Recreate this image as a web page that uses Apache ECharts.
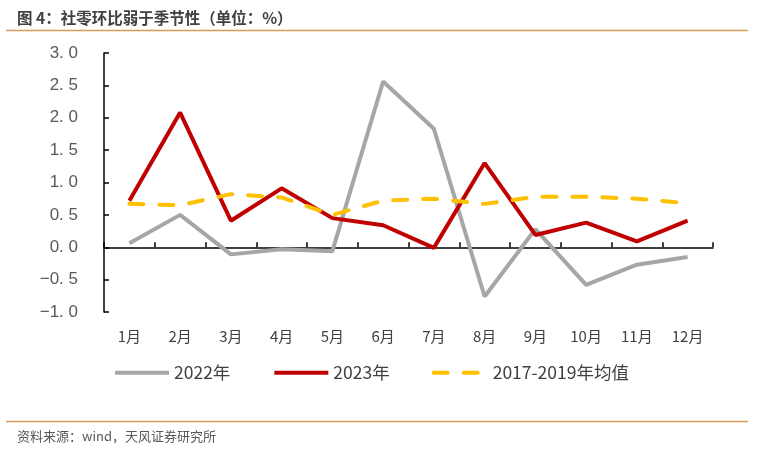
<!DOCTYPE html>
<html>
<head>
<meta charset="utf-8">
<script src="https://cdn.jsdelivr.net/npm/echarts@6/dist/echarts.min.js"></script>
<style>
html,body{margin:0;padding:0;background:#fff;}
#c{width:757px;height:457px;}
</style>
</head>
<body>
<div id="c"></div>
<script>
var months = ['1月','2月','3月','4月','5月','6月','7月','8月','9月','10月','11月','12月'];
var s2022 = [0.06, 0.50, -0.11, -0.03, -0.06, 2.56, 1.83, -0.76, 0.28, -0.58, -0.27, -0.15];
var s2023 = [0.72, 2.08, 0.41, 0.91, 0.45, 0.34, -0.01, 1.30, 0.19, 0.38, 0.09, 0.41];
var sAvg = [0.67, 0.65, 0.82, 0.77, 0.50, 0.72, 0.75, 0.67, 0.78, 0.78, 0.75, 0.68];
var names = ['2022年', '2023年', '2017-2019年均值'];

var font = '"Noto Sans CJK SC", "Noto Sans", sans-serif';
var chart = echarts.init(document.getElementById('c'), null, {renderer: 'canvas'});
chart.setOption({
  animation: false,
  backgroundColor: '#fff',
  title: {
    text: '图 4：社零环比弱于季节性（单位：%）',
    left: 12, top: 5,
    textStyle: {fontSize: 15.5, fontWeight: 'bold', color: '#404040', fontFamily: font}
  },
  graphic: [
    {type: 'line', shape: {x1: 6, y1: 30.5, x2: 748, y2: 30.5}, style: {stroke: '#D99A5B', lineWidth: 1.5}},
    {type: 'line', shape: {x1: 6, y1: 421.5, x2: 748, y2: 421.5}, style: {stroke: '#D99A5B', lineWidth: 1.5}},
    {type: 'text', left: 17, top: 430, style: {text: '资料来源：wind，天风证券研究所', fill: '#595959', font: '13px "Noto Sans CJK SC", sans-serif'}}
  ],
  legend: {
    left: 108, top: 359,
    itemWidth: 54, itemHeight: 10, itemGap: 42,
    textStyle: {fontSize: 17.5, color: '#404040', fontFamily: font},
    itemStyle: {opacity: 0},
    lineStyle: {width: 4},
    data: names
  },
  grid: {left: 104, right: 44, top: 53, bottom: 145},
  xAxis: [
    {
      type: 'category', data: months, position: 'bottom',
      axisLine: {show: false, onZero: false},
      axisTick: {show: false},
      axisLabel: {fontSize: 15, color: '#404040', margin: 17, fontFamily: font},
      splitLine: {show: false}
    },
    {
      type: 'category', data: months, position: 'bottom',
      axisLine: {show: true, onZero: true, lineStyle: {color: '#000', width: 1.5}},
      axisTick: {show: true, inside: true, length: 5, lineStyle: {color: '#000', width: 1.5}},
      axisLabel: {show: false},
      splitLine: {show: false}
    }
  ],
  yAxis: {
    type: 'value', min: -1, max: 3, interval: 0.5,
    axisLine: {show: true, lineStyle: {color: '#000', width: 1.5}},
    axisTick: {show: true, inside: true, length: 5, lineStyle: {color: '#000', width: 1.5}},
    axisLabel: {
      fontSize: 17, color: '#595959', margin: 26, fontFamily: 'Arial, "Liberation Sans", sans-serif',
      formatter: function (v) { return v.toFixed(1).replace('.', '. ').replace('-', '\u2212'); }
    },
    splitLine: {show: false}
  },
  series: [
    {name: names[0], type: 'line', data: s2022, symbol: 'none', xAxisIndex: 0,
     lineStyle: {color: '#A6A6A6', width: 4}, itemStyle: {color: '#A6A6A6'}},
    {name: names[1], type: 'line', data: s2023, symbol: 'none', xAxisIndex: 0,
     lineStyle: {color: '#C00000', width: 4}, itemStyle: {color: '#C00000'}},
    {name: names[2], type: 'line', data: sAvg, symbol: 'none', xAxisIndex: 0,
     lineStyle: {color: '#FFC000', width: 4, type: [14, 16], cap: 'round'}, itemStyle: {color: '#FFC000'}}
  ]
});
</script>
</body>
</html>
